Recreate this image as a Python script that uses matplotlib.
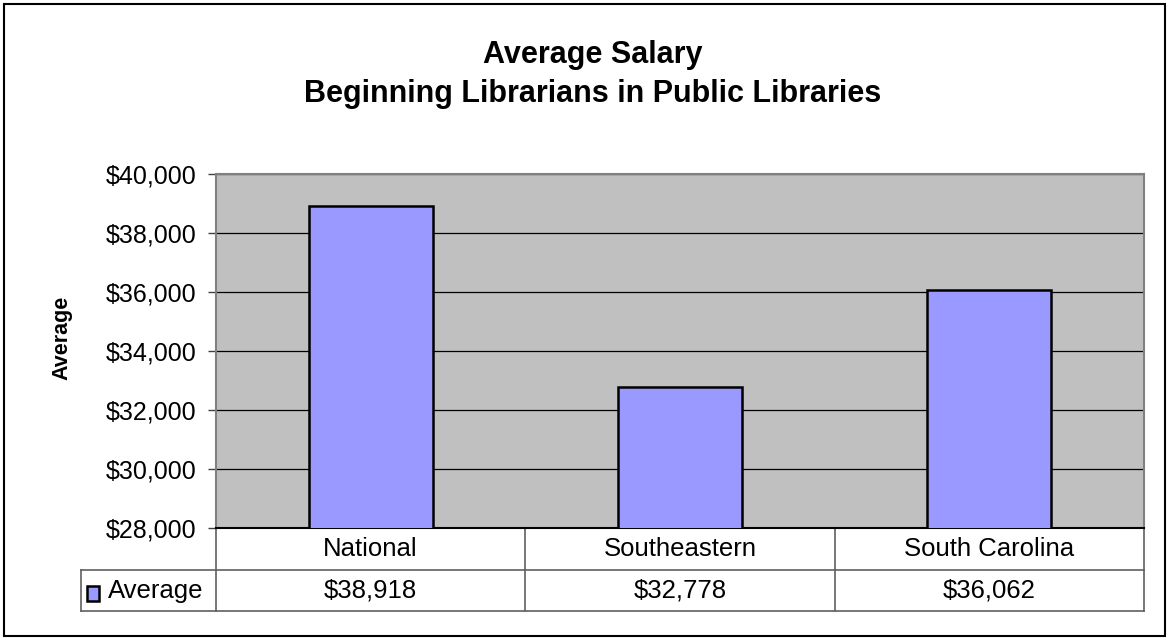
import matplotlib
matplotlib.use("Agg")
import matplotlib.pyplot as plt
from matplotlib.patches import Rectangle
from matplotlib.ticker import FuncFormatter

plt.rcParams["font.family"] = ["Liberation Sans", "DejaVu Sans"]

categories = ["National", "Southeastern", "South Carolina"]
values = [38918, 32778, 36062]
series_name = "Average"
title_lines = ["Average Salary", "Beginning Librarians in Public Libraries"]

W, H = 1170, 641
fig = plt.figure(figsize=(W / 100, H / 100), dpi=100)

# plot area in pixels: x 216..1144, y 174..528
ax = fig.add_axes([216 / W, 1 - 528 / H, 928 / W, 354 / H])
ax.set_facecolor("#C0C0C0")

x = list(range(len(categories)))
ax.bar(x, values, width=0.4, color="#9999FF", edgecolor="black", linewidth=1.8, zorder=3)

ax.set_xlim(-0.5, len(categories) - 0.5)
ax.set_ylim(28000, 40000)
ax.set_yticks(range(28000, 40001, 2000))
ax.yaxis.set_major_formatter(FuncFormatter(lambda v, p: f"${v:,.0f}"))
ax.grid(axis="y", color="black", linewidth=0.9, zorder=1)
ax.set_xticks([])
ax.tick_params(axis="y", labelsize=18, length=6, width=1, color="#404040", pad=8)

for side in ["left", "top", "right"]:
    ax.spines[side].set_color("#808080")
    ax.spines[side].set_linewidth(1.5)
ax.spines["bottom"].set_color("black")
ax.spines["bottom"].set_linewidth(1.5)

ax.set_ylabel(series_name, fontsize=15.5, fontweight="bold")
ax.yaxis.set_label_coords(-0.155, 0.537)

# data table under the plot
n = len(categories)
r1 = (528 - 570) / 354
r2 = (528 - 611) / 354
leg_left = (81 - 216) / 928
lc = "#606060"
lw = 1.2
ax.plot([leg_left, 1], [r1, r1], transform=ax.transAxes, color=lc, lw=lw, clip_on=False)
ax.plot([leg_left, 1], [r2, r2], transform=ax.transAxes, color=lc, lw=lw, clip_on=False)
ax.plot([leg_left, leg_left], [r1, r2], transform=ax.transAxes, color=lc, lw=lw, clip_on=False)
for i in range(n + 1):
    xa = i / n
    ax.plot([xa, xa], [0, r2], transform=ax.transAxes, color=lc, lw=lw, clip_on=False)

for i, (c, v) in enumerate(zip(categories, values)):
    xa = (i + 0.5) / n
    ax.text(xa, r1 / 2, c, transform=ax.transAxes, ha="center", va="center", fontsize=18.5)
    ax.text(xa, (r1 + r2) / 2, f"${v:,}", transform=ax.transAxes, ha="center", va="center", fontsize=18.5)

# legend key in the table
fig.patches.append(Rectangle((87 / W, 1 - 601 / H), 12 / W, 15 / H, transform=fig.transFigure,
                             facecolor="#9999FF", edgecolor="black", linewidth=1.8))
fig.text(108 / W, 1 - 591 / H, series_name, ha="left", va="center", fontsize=18.5)

# title
fig.text(593 / W, 1 - 63 / H, title_lines[0], ha="center", va="baseline", fontsize=22, fontweight="bold")
fig.text(593 / W, 1 - 102 / H, title_lines[1], ha="center", va="baseline", fontsize=22, fontweight="bold")

# chart border
fig.patches.append(Rectangle((4 / W, 5 / H), 1161 / W, 632 / H, transform=fig.transFigure,
                             facecolor="none", edgecolor="black", linewidth=1.5))

fig.savefig("out.png", dpi=100)
